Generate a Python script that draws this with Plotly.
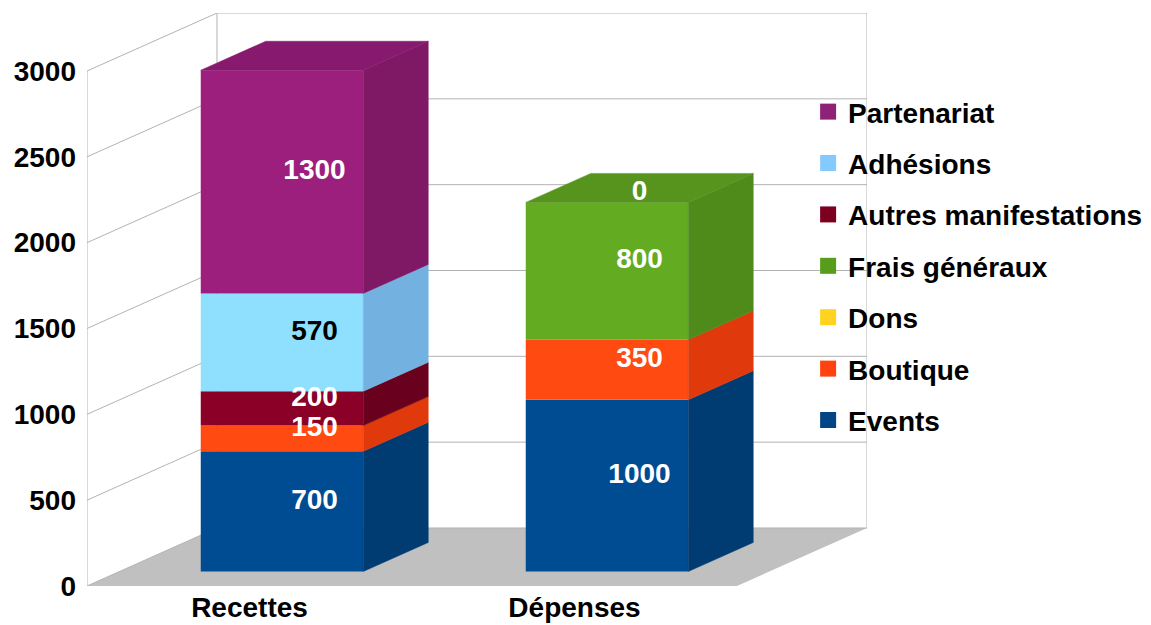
import plotly.graph_objects as go

# ---------------- data ----------------
categories = ["Recettes", "Dépenses"]
events = [700, 1000]
boutique = [150, 350]
dons = [None, None]
frais_generaux = [None, 800]
autres_manifestations = [200, 0]
adhesions = [570, None]
partenariat = [1300, None]
y_ticks = [0, 500, 1000, 1500, 2000, 2500, 3000]

# stack order, bottom -> top
series = [
    ("Events", events),
    ("Boutique", boutique),
    ("Dons", dons),
    ("Frais généraux", frais_generaux),
    ("Autres manifestations", autres_manifestations),
    ("Adhésions", adhesions),
    ("Partenariat", partenariat),
]

# ---------------- styles ----------------
FRONT = {"Events": "#004c93", "Boutique": "#ff4a12", "Dons": "#ffd320",
         "Frais généraux": "#63ab21", "Autres manifestations": "#8a0027",
         "Adhésions": "#8fe0ff", "Partenariat": "#9c1f7e"}
SIDE = {"Events": "#003c72", "Boutique": "#e0390c", "Dons": "#d9b01a",
        "Frais généraux": "#4f8b1b", "Autres manifestations": "#69001d",
        "Adhésions": "#73b2e0", "Partenariat": "#7f1965"}
TOP = {"Events": "#00427f", "Boutique": "#ef4010", "Dons": "#ecc11d",
       "Frais généraux": "#57941e", "Autres manifestations": "#7a0022",
       "Adhésions": "#80c8f0", "Partenariat": "#871a6e"}
LEGEND = {"Events": "#004586", "Boutique": "#ff420e", "Dons": "#ffd320",
          "Frais généraux": "#579d1c", "Autres manifestations": "#7e0021",
          "Adhésions": "#83caff", "Partenariat": "#8e2278"}
TEXTCOL = {"Adhésions": "black"}
FONT = "Liberation Sans, Arial, sans-serif"
FS = 28
GRID = "#b3b3b3"
FLOOR = "#c0c0c0"

# 3-D pseudo projection (oblique), in axis units
DX = 0.4          # depth along x (category units)
DY = 338          # depth along y (value units)
D_FRONT, D_MID, D_BACK = 0.25, 0.5, 0.75
HALF = 0.25       # half bar width
LABEL_DROP = 28   # small vertical nudge of value labels (axis units)
XMIN = -0.5
XMAX = len(categories) - 0.5 + DX
YMAX = max(y_ticks) + DY

fig = go.Figure()

# ---------------- walls / floor / grid (shapes below traces) ----------------
shapes = []
n = len(categories)
floor_pts = [(XMIN, 0), (XMIN + n, 0), (XMIN + n + DX, DY), (XMIN + DX, DY)]
path = "M " + " L ".join(f"{x},{y}" for x, y in floor_pts) + " Z"
shapes.append(dict(type="path", path=path, fillcolor=FLOOR, line=dict(width=0),
                   layer="below", xref="x", yref="y"))
for v in y_ticks:
    shapes.append(dict(type="line", x0=XMIN, y0=v, x1=XMIN + DX, y1=v + DY,
                       line=dict(color=GRID, width=1), layer="below"))
    shapes.append(dict(type="line", x0=XMIN + DX, y0=v + DY, x1=XMAX, y1=v + DY,
                       line=dict(color=GRID, width=1), layer="below"))
top_tick = max(y_ticks)
shapes.append(dict(type="line", x0=XMIN, y0=0, x1=XMIN, y1=top_tick,
                   line=dict(color=GRID, width=1), layer="below"))
shapes.append(dict(type="line", x0=XMIN + DX, y0=DY, x1=XMIN + DX, y1=top_tick + DY,
                   line=dict(color=GRID, width=1), layer="below"))
shapes.append(dict(type="line", x0=XMAX, y0=DY, x1=XMAX, y1=top_tick + DY,
                   line=dict(color=GRID, width=1), layer="below"))

# ---------------- bars ----------------
fx, fy = D_FRONT * DX, D_FRONT * DY
bx, by = D_BACK * DX, D_BACK * DY
mx, my = D_MID * DX, D_MID * DY

bases = [0.0] * n
top_series = [None] * n
lab_x, lab_y, lab_t, lab_c = [], [], [], []
for name, vals in series:
    xs, ys, bs = [], [], []
    sx, sy = [], []
    for i, v in enumerate(vals):
        if v is None:
            continue
        b = bases[i]
        xs.append(i + fx)
        ys.append(v)
        bs.append(b + fy)
        if v > 0:
            x_r = i + HALF
            sx += [x_r + fx, x_r + bx, x_r + bx, x_r + fx, x_r + fx, None]
            sy += [b + fy, b + by, b + v + by, b + v + fy, b + fy, None]
            top_series[i] = name
        lab_x.append(i + mx)
        lab_y.append(b + v / 2 + my - LABEL_DROP)
        lab_t.append(str(v))
        lab_c.append(TEXTCOL.get(name, "white"))
        bases[i] = b + v
    if xs:
        fig.add_trace(go.Bar(x=xs, y=ys, base=bs, width=2 * HALF,
                             marker=dict(color=FRONT[name], line=dict(width=0)),
                             name=name, showlegend=False,
                             customdata=[[categories[round(x - fx)]] for x in xs],
                             hovertemplate="%{customdata[0]}<br>" + name + ": %{y}<extra></extra>"))
    if sx:
        fig.add_trace(go.Scatter(x=sx, y=sy, mode="lines", fill="toself",
                                 fillcolor=SIDE[name],
                                 line=dict(color=SIDE[name], width=0.5),
                                 showlegend=False, hoverinfo="skip"))

# top faces
for i in range(n):
    name = top_series[i]
    if name is None:
        continue
    t = bases[i]
    xl, xr = i - HALF, i + HALF
    fig.add_trace(go.Scatter(
        x=[xl + fx, xl + bx, xr + bx, xr + fx, xl + fx],
        y=[t + fy, t + by, t + by, t + fy, t + fy],
        mode="lines", fill="toself", fillcolor=TOP[name],
        line=dict(color=TOP[name], width=0.5),
        showlegend=False, hoverinfo="skip"))

# value labels
fig.add_trace(go.Scatter(x=lab_x, y=lab_y, text=lab_t, mode="text",
                         textposition="middle center",
                         textfont=dict(family=FONT, size=FS, color=lab_c, weight="bold"),
                         showlegend=False, hoverinfo="skip"))

# legend entries (top -> bottom)
for name, _ in reversed(series):
    fig.add_trace(go.Scatter(x=[None], y=[None], mode="markers", name=name,
                             legendgroup=name,
                             marker=dict(symbol="square", size=18, color=LEGEND[name])))

# page body has an 8px default margin: figure is sized/placed to compensate
fig.update_layout(
    template="none",
    width=1143, height=617,
    margin=dict(l=79, r=284, t=5, b=39, pad=0, autoexpand=False),
    paper_bgcolor="white", plot_bgcolor="white",
    barmode="overlay",
    shapes=shapes,
    font=dict(family=FONT, size=FS, color="black", weight="bold"),
    xaxis=dict(range=[XMIN, XMAX], tickvals=list(range(n)), ticktext=categories,
               showgrid=False, zeroline=False, showline=False, ticks="",
               automargin=False, ticklabelstandoff=2,
               tickfont=dict(family=FONT, size=FS, color="black", weight="bold"),
               fixedrange=True),
    yaxis=dict(range=[0, YMAX], tickvals=y_ticks, showgrid=False, zeroline=False,
               showline=False, ticks="", ticklabelstandoff=10, automargin=False,
               tickfont=dict(family=FONT, size=FS, color="black", weight="bold"),
               fixedrange=True),
    legend=dict(x=0.9245, xanchor="left", y=0.871, yanchor="top",
                bgcolor="rgba(0,0,0,0)", borderwidth=0,
                traceorder="grouped", tracegroupgap=12,
                font=dict(family=FONT, size=FS, color="black", weight="bold")),
    showlegend=True,
)

fig.write_html("out.html")
